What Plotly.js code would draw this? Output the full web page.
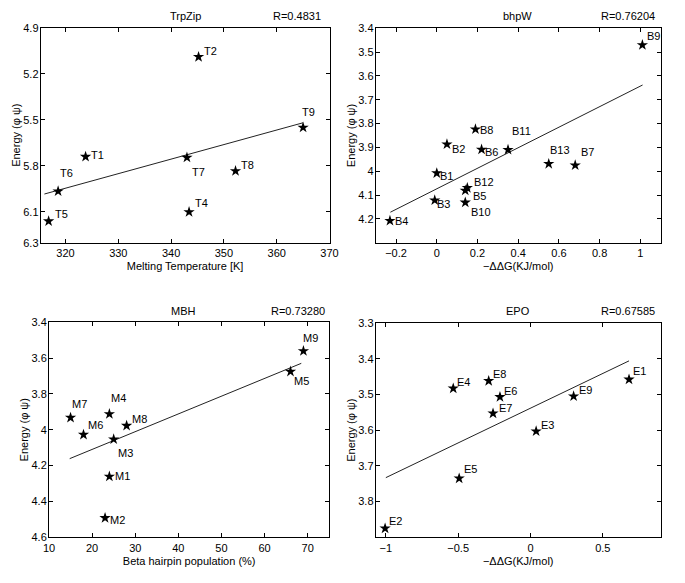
<!DOCTYPE html>
<html><head><meta charset="utf-8">
<script src="https://cdn.plot.ly/plotly-3.0.1.min.js"></script>
<style>html,body{margin:0;padding:0;background:#fff}#chart{width:685px;height:583px}</style>
</head><body><div id="chart"></div>
<script>
// ---- TrpZip ----
const tNames = ["T1","T2","T4","T5","T6","T7","T8","T9"];
const tX = [323.8, 345.2, 343.4, 316.8, 318.6, 343.0, 352.2, 365.0];
const tY = [5.74, 5.09, 6.10, 6.16, 5.965, 5.745, 5.833, 5.55];
const tFitX = [316.0, 365.0];
const tFitY = [5.983, 5.519];
// ---- bhpW ----
const bNames = ["B1","B2","B3","B4","B5","B6","B7","B8","B9","B10","B11","B12","B13"];
const bX = [0.0, 0.05, -0.01, -0.23, 0.14, 0.22, 0.68, 0.19, 1.01, 0.14, 0.35, 0.15, 0.55];
const bY = [4.008, 3.887, 4.122, 4.208, 4.081, 3.909, 3.975, 3.824, 3.47, 4.131, 3.91, 4.07, 3.969];
const bFitX = [-0.228, 1.011];
const bFitY = [4.172, 3.638];
// ---- MBH ----
const mNames = ["M1","M2","M3","M4","M5","M6","M7","M8","M9"];
const mX = [24, 23, 25, 24, 66, 18, 15, 28, 69];
const mY = [4.261, 4.492, 4.053, 3.912, 3.675, 4.027, 3.932, 3.977, 3.56];
const mFitX = [14.8, 68.5];
const mFitY = [4.161, 3.629];
// ---- EPO ----
const eNames = ["E1","E2","E3","E4","E5","E6","E7","E8","E9"];
const eX = [0.681, -1.005, 0.039, -0.534, -0.493, -0.211, -0.259, -0.289, 0.298];
const eY = [3.458, 3.875, 3.603, 3.483, 3.735, 3.507, 3.553, 3.462, 3.505];
const eFitX = [-1.0, 0.681];
const eFitY = [3.733, 3.406];

const titles = ["TrpZip","bhpW","MBH","EPO"];
const rVals = ["R=0.4831","R=0.76204","R=0.73280","R=0.67585"];
const xTitles = ["Melting Temperature [K]","\u2212\u0394\u0394G(KJ/mol)","Beta hairpin population (%)","\u2212\u0394\u0394G(KJ/mol)"];
const yTitle = "Energy (\u03c6 \u03c8)";

// ---- styling: label offsets (px, left edge dx, centre dy downward) ----
const labelOffset = {
  T1:[5.7,-1.7],T2:[5,-6.3],T4:[5.7,-9.3],T5:[6,-7],T6:[2,-18.7],T7:[5,14.3],T8:[5,-6],T9:[-1,-15.7],
  B1:[3.3,3.3],B2:[4.7,4.7],B3:[2.7,3.7],B4:[4.7,0.7],B5:[7.7,5.7],B6:[3,2.3],B7:[5.7,-13.7],B8:[4.7,0.7],
  B9:[4.7,-9.3],B10:[5.3,9.3],B11:[3.7,-18.3],B12:[6.3,-5.7],B13:[1.7,-13.7],
  M1:[5.7,-0.7],M2:[5,2],M3:[4.3,13.3],M4:[1.3,-16.3],M5:[3.3,9.3],M6:[4.7,-9.7],M7:[1.7,-13.7],M8:[5,-6.3],M9:[0,-13.3],
  E1:[4,-8.7],E2:[4,-7],E3:[5,-6.7],E4:[4,-6],E5:[5,-9.7],E6:[4.3,-6],E7:[6,-5],E8:[4.3,-6.7],E9:[5,-6.7]
};

const W = 685, H = 583;
const FONT = "Liberation Sans, Arial, Helvetica, sans-serif";
function dx(a,b){return [a/W, b/W];}
function dy(top,bot){return [1-bot/H, 1-top/H];}

function pts(x,y,xa,ya){
  return {type:"scatter",mode:"markers",x:x,y:y,
    xaxis:xa,yaxis:ya,marker:{symbol:"star",size:8.5,color:"#000"},
    cliponaxis:false,hoverinfo:"skip",showlegend:false};
}
function fit(x,y,xa,ya){
  return {type:"scatter",mode:"lines",x:x,y:y,xaxis:xa,yaxis:ya,
    line:{color:"#222",width:1},hoverinfo:"skip",showlegend:false};
}
const data = [
  fit(tFitX,tFitY,"x","y"), pts(tX,tY,"x","y"),
  fit(bFitX,bFitY,"x2","y2"), pts(bX,bY,"x2","y2"),
  fit(mFitX,mFitY,"x3","y3"), pts(mX,mY,"x3","y3"),
  fit(eFitX,eFitY,"x4","y4"), pts(eX,eY,"x4","y4")
];

function ax(extra){
  return Object.assign({showline:true,mirror:"ticks",ticks:"inside",ticklen:4,tickcolor:"#000",
    linecolor:"#000",linewidth:1,showgrid:false,zeroline:false,
    tickfont:{family:FONT,size:11,color:"#000"},automargin:false},extra);
}
const doms = [
  {x:dx(40.7,329.5), y:dy(27.7,242.7)},
  {x:dx(375.7,660.7), y:dy(28.3,242.7)},
  {x:dx(49,329.3), y:dy(322.3,537.3)},
  {x:dx(375.7,660.7), y:dy(323,537.3)}
];
const xr = [[315.3,370],[-0.3,1.1],[10,75],[-1.07,0.9]];
const yr = [[6.3,4.9],[4.3,3.4],[4.6,3.4],[3.9,3.3]];
const xtv = [[320,330,340,350,360,370],[-0.2,0,0.2,0.4,0.6,0.8,1],[10,20,30,40,50,60,70],[-1,-0.5,0,0.5]];
const xtt = [null,["\u22120.2","0","0.2","0.4","0.6","0.8","1"],null,["\u22121","\u22120.5","0","0.5"]];
const ytv = [[4.9,5.2,5.5,5.8,6.1,6.3],[3.4,3.5,3.6,3.7,3.8,3.9,4,4.1,4.2],[3.4,3.6,3.8,4,4.2,4.4,4.6],[3.3,3.4,3.5,3.6,3.7,3.8]];

const layout = {width:W,height:H,margin:{l:0,r:0,t:0,b:0},paper_bgcolor:"#fff",plot_bgcolor:"#fff",
  font:{family:FONT,size:11,color:"#000"},showlegend:false,annotations:[]};
const titleY = [16,16,310.7,310.7];
const titleX = [185,517,183.7,517.7];
const rX = [323,657,327,657];
for(let i=0;i<4;i++){
  const s = i===0?"":String(i+1);
  const xo = {domain:doms[i].x, range:xr[i], tickvals:xtv[i], anchor:"y"+s,
    title:{text:xTitles[i],font:{family:FONT,size:11,color:"#000"},standoff:4}};
  if(xtt[i]) xo.ticktext = xtt[i];
  layout["xaxis"+s] = ax(xo);
  layout["yaxis"+s] = ax({domain:doms[i].y, range:yr[i], tickvals:ytv[i], anchor:"x"+s,
    ticklabelstandoff:-1,
    title:{text:yTitle,font:{family:FONT,size:11,color:"#000"},standoff:0}});
  layout.annotations.push({xref:"paper",yref:"paper",x:titleX[i]/W,y:1-titleY[i]/H,text:titles[i],
    showarrow:false,xanchor:"center",yanchor:"middle",font:{family:FONT,size:11,color:"#000"}});
  layout.annotations.push({xref:"paper",yref:"paper",x:rX[i]/W,y:1-titleY[i]/H,text:rVals[i],
    showarrow:false,xanchor:"right",yanchor:"middle",font:{family:FONT,size:11,color:"#000"}});
}
function labels(names,x,y,s){
  names.forEach((n,k)=>{
    const o = labelOffset[n];
    layout.annotations.push({xref:"x"+s,yref:"y"+s,x:x[k],y:y[k],text:n,showarrow:false,
      xanchor:"left",yanchor:"middle",xshift:o[0]-1,yshift:-o[1],borderpad:0,
      font:{family:FONT,size:11,color:"#000"}});
  });
}
labels(tNames,tX,tY,""); labels(bNames,bX,bY,"2"); labels(mNames,mX,mY,"3"); labels(eNames,eX,eY,"4");
Plotly.newPlot("chart",data,layout,{staticPlot:true,displayModeBar:false});
</script></body></html>
